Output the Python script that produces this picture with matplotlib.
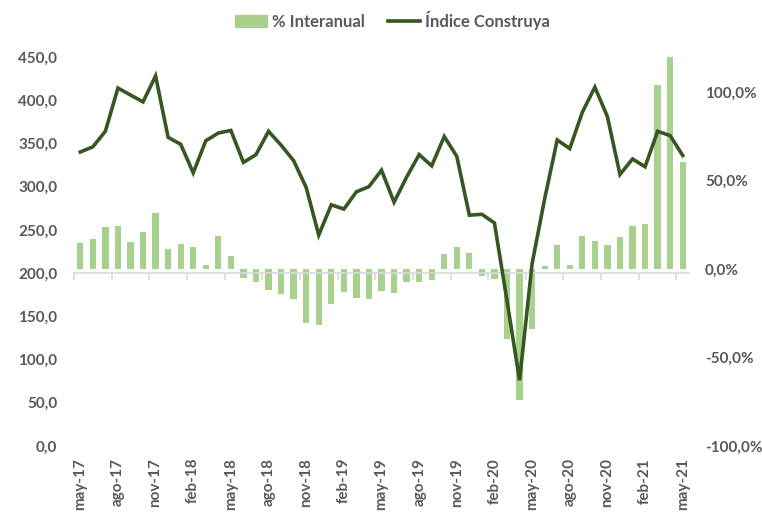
import numpy as np
import matplotlib.pyplot as plt
from matplotlib.ticker import FuncFormatter, FixedLocator
from matplotlib.patches import Patch
from matplotlib.lines import Line2D

plt.rcParams['font.family'] = ['Lato', 'DejaVu Sans']

# may-17 .. may-21
meses = ['ene', 'feb', 'mar', 'abr', 'may', 'jun', 'jul', 'ago', 'sep', 'oct', 'nov', 'dic']
periodos = [f"{meses[(4 + i) % 12]}-{17 + (4 + i) // 12}" for i in range(49)]

indice = [340, 346, 364, 414, 406, 398, 428, 357, 349, 316, 353, 362, 365,
          328, 337, 364, 348, 330, 299, 244, 279, 274, 294, 300, 319, 282,
          311, 337, 324, 358, 335, 267, 268, 258, 168, 76, 211, 286, 354,
          344, 386, 415, 381, 314, 332, 323, 364, 359, 336]

interanual = [14.8, 17.1, 23.8, 24.4, 15.6, 21.2, 31.7, 11.3, 14.5, 12.4, 2.6,
              18.8, 7.5, -5.1, -7.3, -11.8, -14.2, -17.1, -30.3, -31.6, -19.8,
              -13.1, -16.1, -16.9, -12.6, -13.5, -7.3, -7.3, -6.4, 8.8, 12.8,
              9.4, -3.6, -5.6, -39.4, -74.1, -33.8, 1.9, 13.7, 2.4, 18.6, 16.0,
              13.7, 18.2, 24.2, 25.5, 103.9, 120.0, 60.5]

gris = '#595959'
verde_claro = '#a9d18e'
verde_osc = '#375623'

x = np.arange(len(periodos))

fig = plt.figure(figsize=(7.62, 5.13), dpi=100)
ax = fig.add_subplot(111)
ax2 = ax.twinx()
fig.subplots_adjust(left=0.0971, right=0.9042, top=0.889, bottom=0.1306)

# bars on the secondary axis
ax2.bar(x, interanual, width=0.5, color=verde_claro, zorder=1)
ax2.set_ylim(-100, 120)
ax2.yaxis.set_major_locator(FixedLocator([-100, -50, 0, 50, 100]))
ax2.yaxis.set_major_formatter(FuncFormatter(lambda v, p: f"{v:.1f}%".replace('.', ',')))

# line on the primary axis, drawn above the bars
ax.plot(x, indice, color=verde_osc, lw=2.6, solid_joinstyle='miter', zorder=3)
ax.set_ylim(0, 450)
ax.set_yticks(np.arange(0, 451, 50))
ax.yaxis.set_major_formatter(FuncFormatter(lambda v, p: f"{v:.1f}".replace('.', ',')))
ax.set_zorder(ax2.get_zorder() + 1)
ax.patch.set_visible(False)

ax.set_xlim(-0.5, len(periodos) - 0.5)
ax.set_xticks(x[::3])
ax.set_xticks(np.arange(-0.5, len(periodos), 3), minor=True)

for s in ['top', 'left', 'right']:
    ax.spines[s].set_visible(False)
    ax2.spines[s].set_visible(False)
ax2.spines['bottom'].set_visible(False)

# category axis crosses the primary axis at 200
ax.spines['bottom'].set_position(('data', 200))
ax.spines['bottom'].set_color('#d9d9d9')
ax.spines['bottom'].set_linewidth(1.2)
ax.tick_params(axis='x', which='major', length=0, labelbottom=False)
ax.tick_params(axis='x', which='minor', length=5, width=1.2, color='#d9d9d9')

# month labels at the bottom, from the twin axis
ax2.xaxis.set_visible(True)
ax2.set_xticklabels(periodos[::3])
ax2.tick_params(axis='x', which='both', length=0, labelbottom=True, pad=8.5,
                labelrotation=90, labelsize=11, labelcolor=gris)
for t in ax2.get_xticklabels():
    t.set_fontweight('bold')

ax.tick_params(axis='y', length=0, pad=12, labelsize=11, labelcolor=gris)
ax2.tick_params(axis='y', length=0, pad=11.5, labelsize=11, labelcolor=gris)
for t in ax.get_yticklabels() + ax2.get_yticklabels():
    t.set_fontweight('bold')

handles = [Patch(color=verde_claro), Line2D([], [], color=verde_osc, lw=2.6)]
fig.legend(handles, ['% Interanual', 'Índice Construya'], loc='center',
           bbox_to_anchor=(0.515, 0.96), ncol=2, frameon=False,
           handlelength=1.9, handletextpad=0.3, columnspacing=1.4,
           prop={'weight': 'bold', 'size': 12}, labelcolor=gris)

plt.savefig('out.png', dpi=100)
